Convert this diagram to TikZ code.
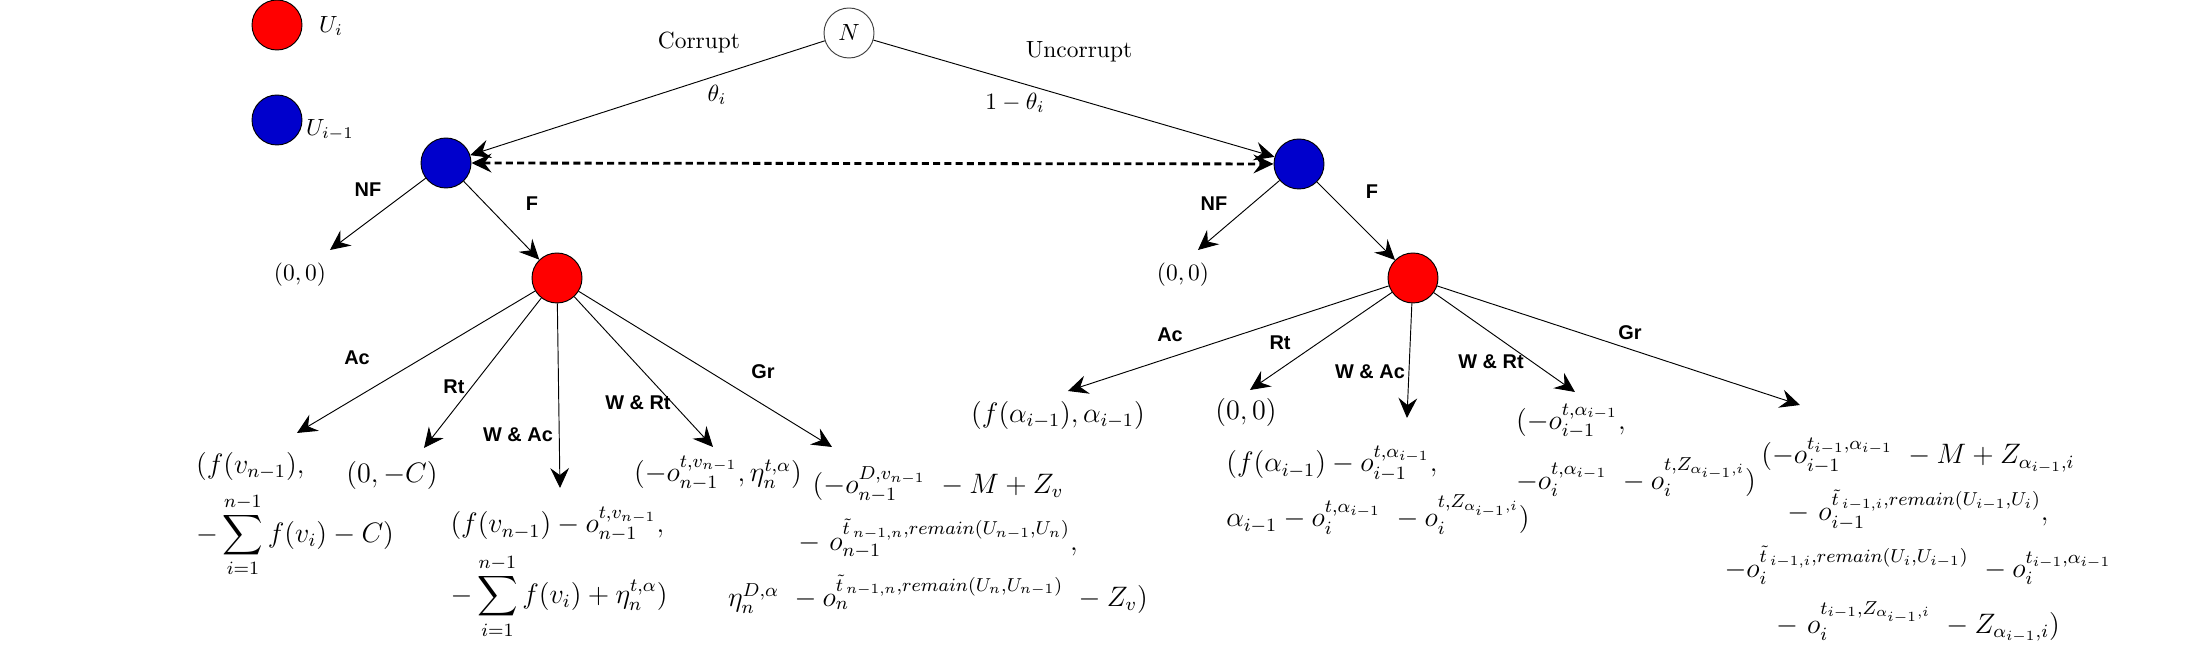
\documentclass[tikz,border=0pt]{standalone}
\usepackage{amsmath}
\usepackage{amssymb}
\usepackage{fontspec}
\newfontfamily\lblfont{Liberation Sans}
\usetikzlibrary{arrows.meta}
\definecolor{uiblue}{RGB}{0,0,204}

\begin{document}
\begin{tikzpicture}[scale=0.15,
	player/.style={circle, draw=black, minimum size=0.75cm, inner sep=0pt},
	cur/.style={player, fill=red},
	prev/.style={player, fill=uiblue},
	nat/.style={player, draw=black!75, fill=white},
	arr/.style={-{Stealth[length=8.5pt,width=8pt,inset=3pt]}},
	lbl/.style={font=\lblfont\fontsize{8.5pt}{10pt}\selectfont\bfseries},
	pay/.style={font=\large, inner sep=0pt}]
	\useasboundingbox (0,0) rectangle (219.9,-66.7);
	% legend
	\node[cur] (lgcur) at (27.7,-2.5) {};
	\node (lgcurtxt) at (33.1,-2.6) {$U_i$};
	\node[prev] (lgprev) at (27.7,-12) {};
	\node (lgprevtxt) at (33.0,-13) {$U_{i-1}$};
	% players
	\node[nat] (N) at (84.9,-3.3) {$N$};
	\node[prev] (pL) at (44.6,-16.3) {};
	\node[prev] (pR) at (129.9,-16.4) {};
	\node[cur] (cL) at (55.7,-27.8) {};
	\node[cur] (cR) at (141.3,-27.8) {};
	\draw[arr] (N) -- (pL);
	\draw[arr] (N) -- (pR);
	\draw[{Stealth[length=8.5pt,width=8pt,inset=3pt]}-{Stealth[length=8.5pt,width=8pt,inset=3pt]}, line width=1.2pt, dash pattern=on 3pt off 1.8pt] (pL) -- (pR);
	\node (corrupt) at (69.9,-4.3) {Corrupt};
	\node (theta) at (71.7,-9.5) {$\theta_i$};
	\node (uncorrupt) at (107.9,-5.2) {Uncorrupt};
	\node (utheta) at (101.5,-10.3) {$1-\theta_i$};
	% not found / found
	\coordinate (nfL) at (33.0,-25.0);
	\coordinate (nfR) at (119.8,-25.0);
	\draw[arr] (pL) -- (nfL);
	\draw[arr] (pL) -- (cL);
	\draw[arr] (pR) -- (nfR);
	\draw[arr] (pR) -- (cR);
	\node[lbl] (nfLtxt) at (36.8,-19.0) {NF};
	\node[lbl] (fLtxt) at (53.2,-20.4) {F};
	\node[lbl] (nfRtxt) at (121.4,-20.4) {NF};
	\node[lbl] (fRtxt) at (137.2,-19.2) {F};
	\node (zL) at (30.0,-27.5) {$(0,0)$};
	\node (zR) at (118.3,-27.5) {$(0,0)$};
	% left subtree
	\coordinate (acLend) at (29.7,-43.3);
	\coordinate (rtLend) at (42.4,-44.8);
	\coordinate (wacLend) at (56.0,-48.8);
	\coordinate (wrtLend) at (71.3,-44.7);
	\coordinate (grLend) at (83.2,-44.7);
	\foreach \e in {acLend,rtLend,wacLend,wrtLend,grLend}
		\draw[arr] (cL) -- (\e);
	\node[lbl] (acL) at (35.7,-35.8) {Ac};
	\node[lbl] (rtL) at (45.4,-38.7) {Rt};
	\node[lbl] (wacL) at (51.8,-43.5) {W \& Ac};
	\node[lbl] (wrtL) at (63.8,-40.3) {W \& Rt};
	\node[lbl] (grL) at (76.3,-37.2) {Gr};
	\node[pay, align=left] (acLpay) at (29.5,-51.5) {$(f(v_{n-1}),$\\[4pt]
		$\displaystyle -\sum_{i=1}^{n-1} f(v_i) - C)$};
	\node[pay] (rtLpay) at (39.2,-47.5) {$(0,-C)$};
	\node[pay, align=left] (wacLpay) at (55.9,-57.3) {$(f(v_{n-1}) - o_{n-1}^{t,v_{n-1}},$\\[4pt]
		$\displaystyle -\sum_{i=1}^{n-1} f(v_i) + \eta_n^{t,\alpha})$};
	\node[pay] (wrtLpay) at (71.8,-47.3) {$(-o_{n-1}^{t,v_{n-1}}, \eta_n^{t,\alpha})$};
	\node[pay, align=center] (grLpay) at (93.8,-54.0) {$(-o_{n-1}^{D,v_{n-1}}\ - M + Z_v$\\[6pt]
		$-\ o_{n-1}^{\tilde{t}\,_{n-1,n},remain(U_{n-1},U_n)},$\\[6pt]
		$\eta_n^{D,\alpha}\ - o_n^{\tilde{t}\,_{n-1,n},remain(U_n,U_{n-1})}\ - Z_v)$};
	% right subtree
	\coordinate (acRend) at (106.8,-39.1);
	\coordinate (rtRend) at (125.0,-39.0);
	\coordinate (wacRend) at (140.7,-41.8);
	\coordinate (wrtRend) at (157.5,-39.2);
	\coordinate (grRend) at (180.0,-40.5);
	\foreach \e in {acRend,rtRend,wacRend,wrtRend,grRend}
		\draw[arr] (cR) -- (\e);
	\node[lbl] (acR) at (117.0,-33.5) {Ac};
	\node[lbl] (rtR) at (128.0,-34.3) {Rt};
	\node[lbl] (wacR) at (137.0,-37.2) {W \& Ac};
	\node[lbl] (wrtR) at (149.1,-36.2) {W \& Rt};
	\node[lbl] (grR) at (163.0,-33.3) {Gr};
	\node[pay] (acRpay) at (105.8,-41.5) {$(f(\alpha_{i-1}), \alpha_{i-1})$};
	\node[pay] (rtRpay) at (124.6,-41.2) {$(0,0)$};
	\node[pay, align=left] (wacRpay) at (137.8,-49.0) {$(f(\alpha_{i-1}) - o_{i-1}^{t,\alpha_{i-1}},$\\[5pt]
		$\alpha_{i-1} - o_i^{t,\alpha_{i-1}}\ - o_i^{t,Z_{\alpha_{i-1},i}})$};
	\node[pay, align=left] (wrtRpay) at (163.6,-45.0) {$(-o_{i-1}^{t,\alpha_{i-1}},$\\[7pt]
		$-o_i^{t,\alpha_{i-1}}\ - o_i^{t,Z_{\alpha_{i-1},i}})$};
	\node[pay, align=center] (grRpay) at (191.8,-54.0) {$(-o_{i-1}^{t_{i-1},\alpha_{i-1}}\ - M + Z_{\alpha_{i-1},i}$\\[6pt]
		$-\ o_{i-1}^{\tilde{t}\,_{i-1,i},remain(U_{i-1},U_i)},$\\[6pt]
		$-o_i^{\tilde{t}\,_{i-1,i},remain(U_i,U_{i-1})}\ - o_i^{t_{i-1},\alpha_{i-1}}$\\[6pt]
		$-\ o_i^{t_{i-1},Z_{\alpha_{i-1},i}}\ - Z_{\alpha_{i-1},i})$};
\end{tikzpicture}
\end{document}
